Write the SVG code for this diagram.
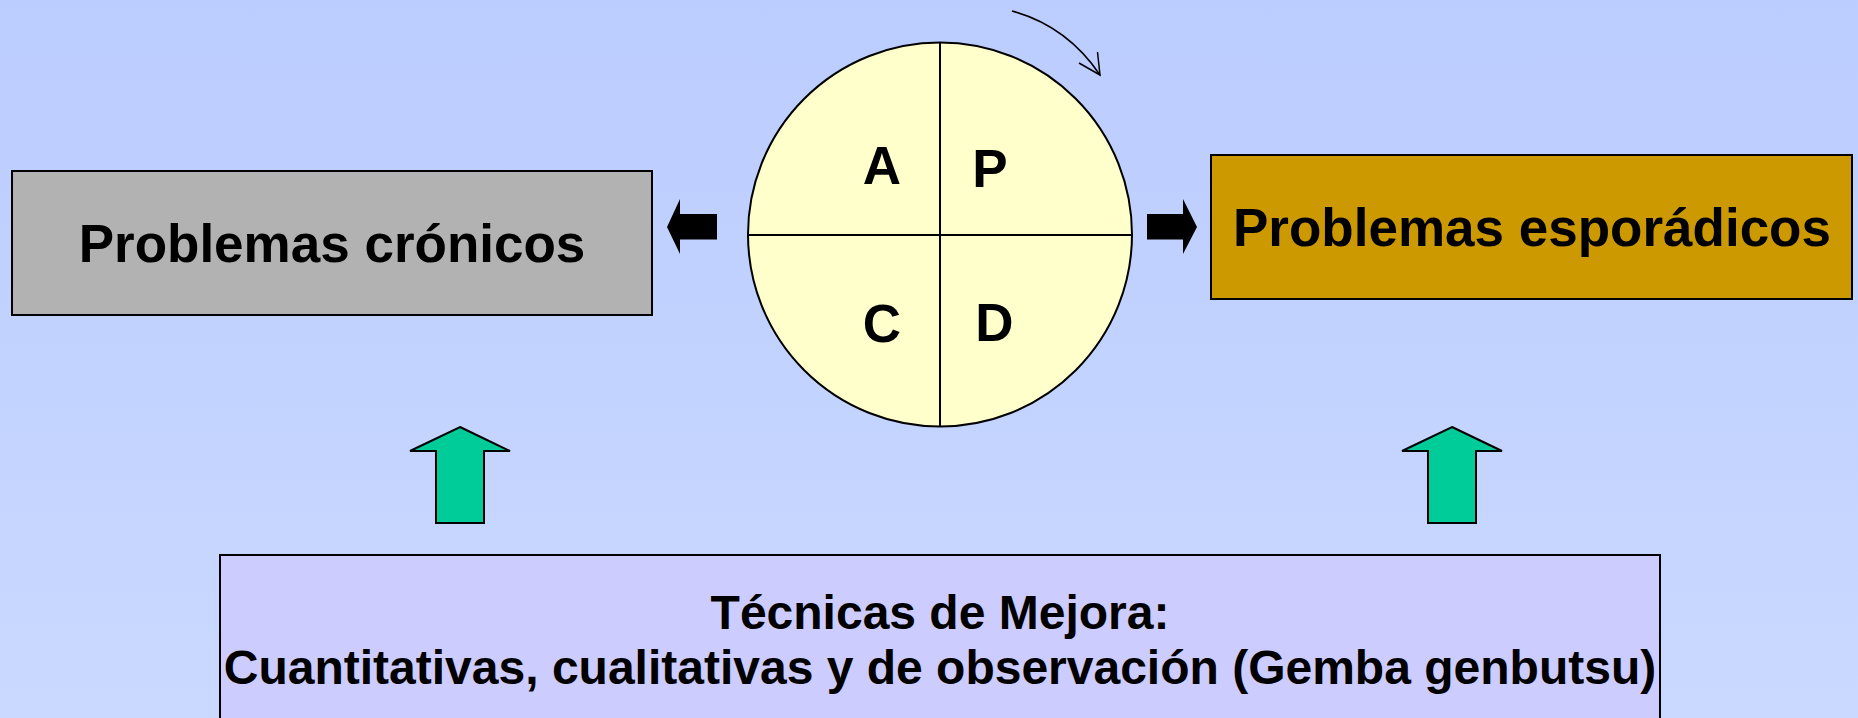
<svg xmlns="http://www.w3.org/2000/svg" width="1858" height="718" viewBox="0 0 1858 718">
<defs>
<linearGradient id="bg" x1="0" y1="0" x2="0" y2="1">
<stop offset="0" stop-color="#BBCCFF"/>
<stop offset="1" stop-color="#C9D9FF"/>
</linearGradient>
<style>
.t{font-family:"Liberation Sans",Arial,sans-serif;font-weight:bold;fill:#000;text-anchor:middle}
.box{stroke:#000;stroke-width:2}
.blk{fill:#000;stroke:none}
.grn{fill:#00CC99;stroke:#000;stroke-width:2;stroke-linejoin:miter}
</style>
</defs>
<rect x="0" y="0" width="1858" height="718" fill="url(#bg)"/>
<g id="pdca">
<circle cx="940" cy="234.5" r="192" fill="#FFFFCC" stroke="#000" stroke-width="2"/>
<line x1="940" y1="42.5" x2="940" y2="426.5" stroke="#000" stroke-width="2"/>
<line x1="748" y1="235" x2="1132" y2="235" stroke="#000" stroke-width="2"/>
<text class="t" x="882" y="184" font-size="53">A</text>
<text class="t" x="990" y="187" font-size="53">P</text>
<text class="t" x="882" y="342" font-size="53">C</text>
<text class="t" x="994.5" y="341" font-size="53">D</text>
</g>
<g id="cronicos">
<rect class="box" x="12" y="171" width="640" height="144" fill="#B2B2B2"/>
<text class="t" x="332" y="262" font-size="53">Problemas crónicos</text>
</g>
<g id="esporadicos">
<rect class="box" x="1211" y="155" width="641" height="144" fill="#CC9900"/>
<text class="t" x="1532" y="246" font-size="53">Problemas esporádicos</text>
</g>
<g id="tecnicas">
<rect class="box" x="220" y="555" width="1440" height="175" fill="#CCCCFF"/>
<text class="t" x="940" y="629" font-size="48">Técnicas de Mejora:</text>
<text class="t" x="940" y="684" font-size="48">Cuantitativas, cualitativas y de observación (Gemba genbutsu)</text>
</g>
<g id="connectors">
<path class="blk" d="M667,227 L680,199 L680,214 L717,214 L717,239.5 L680,239.5 L680,254 Z"/>
<path class="blk" d="M1197,227 L1183,199 L1183,214 L1147,214 L1147,239.5 L1183,239.5 L1183,254 Z"/>
<path class="grn" d="M460,427 L510,451 L484,451 L484,523 L436,523 L436,451 L410,451 Z"/>
<path class="grn" d="M1452,427 L1502,451 L1476,451 L1476,523 L1428,523 L1428,451 L1402,451 Z"/>
<path d="M1012,11 Q1067,26 1100,75" fill="none" stroke="#000" stroke-width="1.5"/>
<path d="M1079,63 L1100,75 L1097.5,52" fill="none" stroke="#000" stroke-width="1.5"/>
</g>
</svg>
